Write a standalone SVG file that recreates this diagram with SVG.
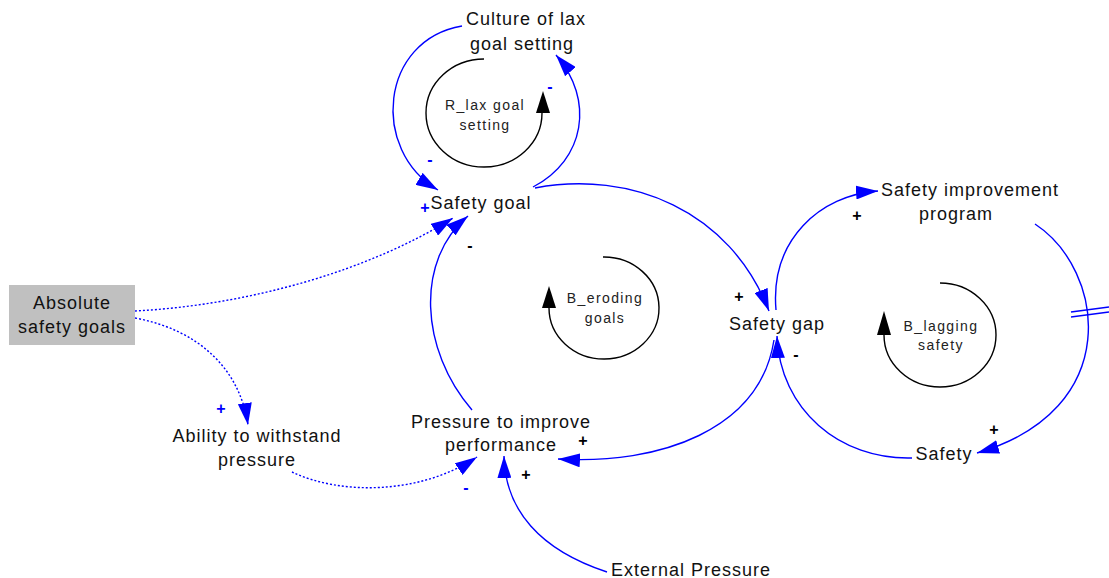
<svg xmlns="http://www.w3.org/2000/svg" width="1109" height="578" viewBox="0 0 1109 578">
<defs>
<marker id="ah" viewBox="0 0 22 14" refX="22" refY="7" markerWidth="22" markerHeight="14" markerUnits="userSpaceOnUse" orient="auto">
<path d="M0,0 L22,7 L0,14 z" fill="#0000ff"/>
</marker>
<style>
.node{font-family:"Liberation Sans",Arial,sans-serif;font-size:18px;letter-spacing:1px;fill:#111;text-anchor:middle}
.loop{font-family:"Liberation Sans",Arial,sans-serif;font-size:14px;letter-spacing:1.4px;fill:#222;text-anchor:middle}
.link{fill:none;stroke:#0000ff;stroke-width:1.4;marker-end:url(#ah)}
.dot{stroke-dasharray:2,2}
.arc{fill:none;stroke:#000;stroke-width:1.4}
.pb{font-family:"Liberation Sans",Arial,sans-serif;font-size:16px;fill:#0000ff;text-anchor:middle;font-weight:bold}
.pk{font-family:"Liberation Sans",Arial,sans-serif;font-size:16px;fill:#000;text-anchor:middle;font-weight:bold}
</style>
</defs>
<rect width="1109" height="578" fill="#fff"/>
<g id="connectors">
<path class="link" d="M533,187 C585,160 595,100 556,55"/>
<path class="link" d="M462,26 C380,40 370,150 438,190"/>
<path class="link" d="M535,188 C630,170 730,210 769,311"/>
<path class="link" d="M776,310 C770,240 820,195 878,191"/>
<path class="link" d="M1035,224 C1105,270 1125,410 977,453"/>
<path d="M1071,312 L1109,307 M1071,317 L1109,312" stroke="#0000ff" stroke-width="1.4" fill="none"/>
<path class="link" d="M912,458 C840,460 780,410 777,336"/>
<path class="link" d="M774,340 C760,430 660,465 558,459"/>
<path class="link" d="M472,410 C420,350 415,260 468,216"/>
<path class="link dot" d="M135,311 C250,305 370,270 453,218"/>
<path class="link dot" d="M135,318 C200,330 240,370 248,425"/>
<path class="link dot" d="M292,472 C340,495 420,495 477,457"/>
<path class="link" d="M607,572 C540,550 505,510 504,456"/>
</g>
<g id="polarities">
<text class="pb" x="550" y="92">-</text>
<text class="pb" x="430" y="165">-</text>
<text class="pb" x="425" y="213">+</text>
<text class="pb" x="221" y="414">+</text>
<text class="pb" x="466" y="493">-</text>
<text class="pk" x="470" y="251">-</text>
<text class="pk" x="739" y="302">+</text>
<text class="pk" x="857" y="221">+</text>
<text class="pk" x="994" y="435">+</text>
<text class="pk" x="796" y="360">-</text>
<text class="pk" x="583" y="446">+</text>
<text class="pk" x="526" y="480">+</text>
</g>
<g id="loop-R_lax">
<path class="arc" d="M484,59 A58,54 0 1 0 542,113"/>
<polygon points="543,91 536,113 550,113" fill="#000"/>
<text class="loop" x="485" y="110">R_lax goal</text>
<text class="loop" x="485" y="130">setting</text>
</g>
<g id="loop-B_eroding">
<path class="arc" d="M603,257 A55,51 0 1 1 549,308"/>
<polygon points="549,286 542,308 556,308" fill="#000"/>
<text class="loop" x="605" y="303">B_eroding</text>
<text class="loop" x="605" y="323">goals</text>
</g>
<g id="loop-B_lagging">
<path class="arc" d="M940,283 A56,52 0 1 1 884,335"/>
<polygon points="884,311 877,335 891,335" fill="#000"/>
<text class="loop" x="941" y="331">B_lagging</text>
<text class="loop" x="941" y="350">safety</text>
</g>
<g id="culture">
<text class="node" x="526" y="25">Culture of lax</text>
<text class="node" x="522" y="50">goal setting</text>
</g>
<g id="safety-goal">
<text class="node" x="481" y="209">Safety goal</text>
</g>
<g id="absolute">
<rect x="9" y="285" width="126" height="60" fill="#c0c0c0"/>
<text class="node" x="72" y="309">Absolute</text>
<text class="node" x="72" y="333">safety goals</text>
</g>
<g id="ability">
<text class="node" x="257" y="442">Ability to withstand</text>
<text class="node" x="257" y="466">pressure</text>
</g>
<g id="pressure">
<text class="node" x="501" y="428">Pressure to improve</text>
<text class="node" x="501" y="451">performance</text>
</g>
<g id="external">
<text class="node" x="691" y="576">External Pressure</text>
</g>
<g id="safety-gap">
<text class="node" x="777" y="330">Safety gap</text>
</g>
<g id="sip">
<text class="node" x="970" y="196">Safety improvement</text>
<text class="node" x="956" y="220">program</text>
</g>
<g id="safety">
<text class="node" x="944" y="460">Safety</text>
</g>
</svg>
